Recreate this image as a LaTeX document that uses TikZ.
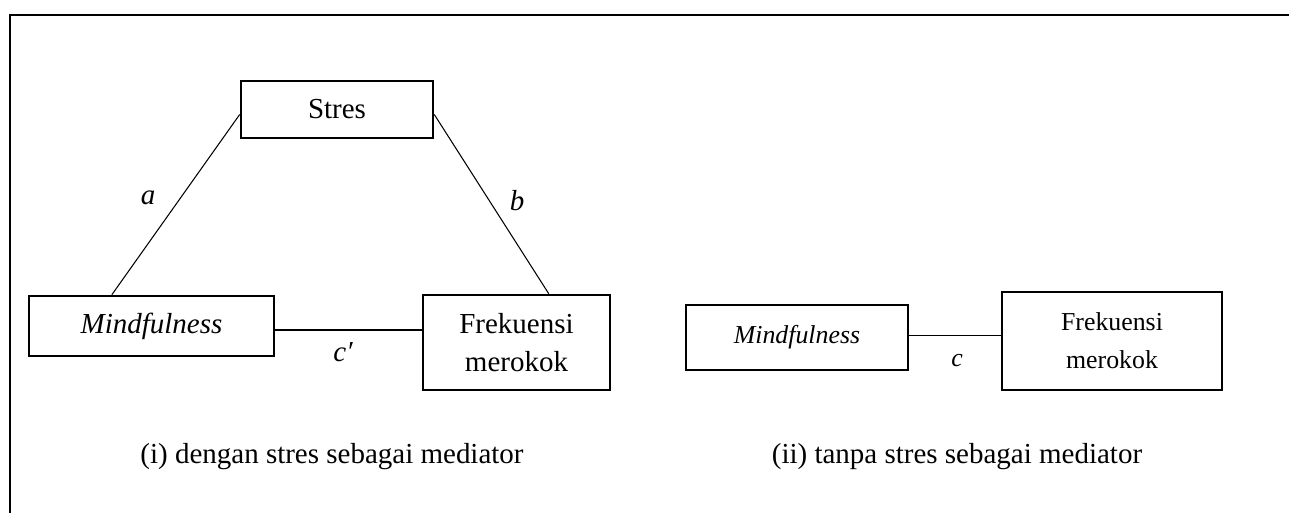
\documentclass[tikz,border=0pt]{standalone}
\usepackage{fontspec}
\setmainfont{Liberation Serif}
\usetikzlibrary{calc}

\begin{document}
\begin{tikzpicture}
      [x=0.02cm, y=-0.02cm,
      every node/.style={font=\fontsize{16.5}{21.6}\selectfont},
      small/.style={font=\fontsize{14.7}{21.6}\selectfont},
      box/.style={draw, line width=1.5pt, inner sep=0pt, align=center},
      link/.style={line width=0.6pt},
      lbl/.style={font=\fontsize{16.5}{21.6}\selectfont\itshape}]

      \useasboundingbox (0,0) rectangle (1289,513);
      \draw[line width=1.7pt] (10,513) -- (10,15) -- (1289,15);

      \node[box, minimum width=3.84cm, minimum height=1.14cm] (stres) at (337,109.5) {Stres};
      \node[box, minimum width=4.9cm, minimum height=1.2cm] (mindl) at (151.5,326) {\textit{Mindfulness}};
      \node[box, minimum width=3.74cm, minimum height=1.9cm] (frekl) at (516.5,342.5) {Frekuensi\\merokok};
      \node[box, small, minimum width=4.44cm, minimum height=1.3cm] (mindr) at (797,337.5) {\textit{Mindfulness}};
      \node[box, small, minimum width=4.4cm, minimum height=1.96cm] (frekr) at (1112,341) {Frekuensi\\merokok};

      \coordinate (cl) at ($(mindl.east)+(0,4)$);
      \coordinate (cr) at ($(mindr.east)+(0,-2)$);

      \draw[link] ($(stres.west)+(0,5)$) -- ($(mindl.north west)!0.34!(mindl.north east)$);
      \draw[link] ($(stres.east)+(0,5)$) -- ($(frekl.north west)!0.67!(frekl.north east)$);
      \draw[link] (cl) -- (cl -| frekl.west);
      \draw[link] (cr) -- (cr -| frekr.west);

      \node[lbl] (la) at (148,198) {a};
      \node[lbl] (lb) at (517,201) {b};
      \node[lbl] (lc1) at (343,352) {c′};
      \node[lbl, small, font=\fontsize{14.7}{21.6}\selectfont\itshape] (lc2) at (957,361) {c};

      \node (capi) at (332,457) {(i) dengan stres sebagai mediator};
      \node (capii) at (957,457) {(ii) tanpa stres sebagai mediator};
    \end{tikzpicture}
\end{document}
